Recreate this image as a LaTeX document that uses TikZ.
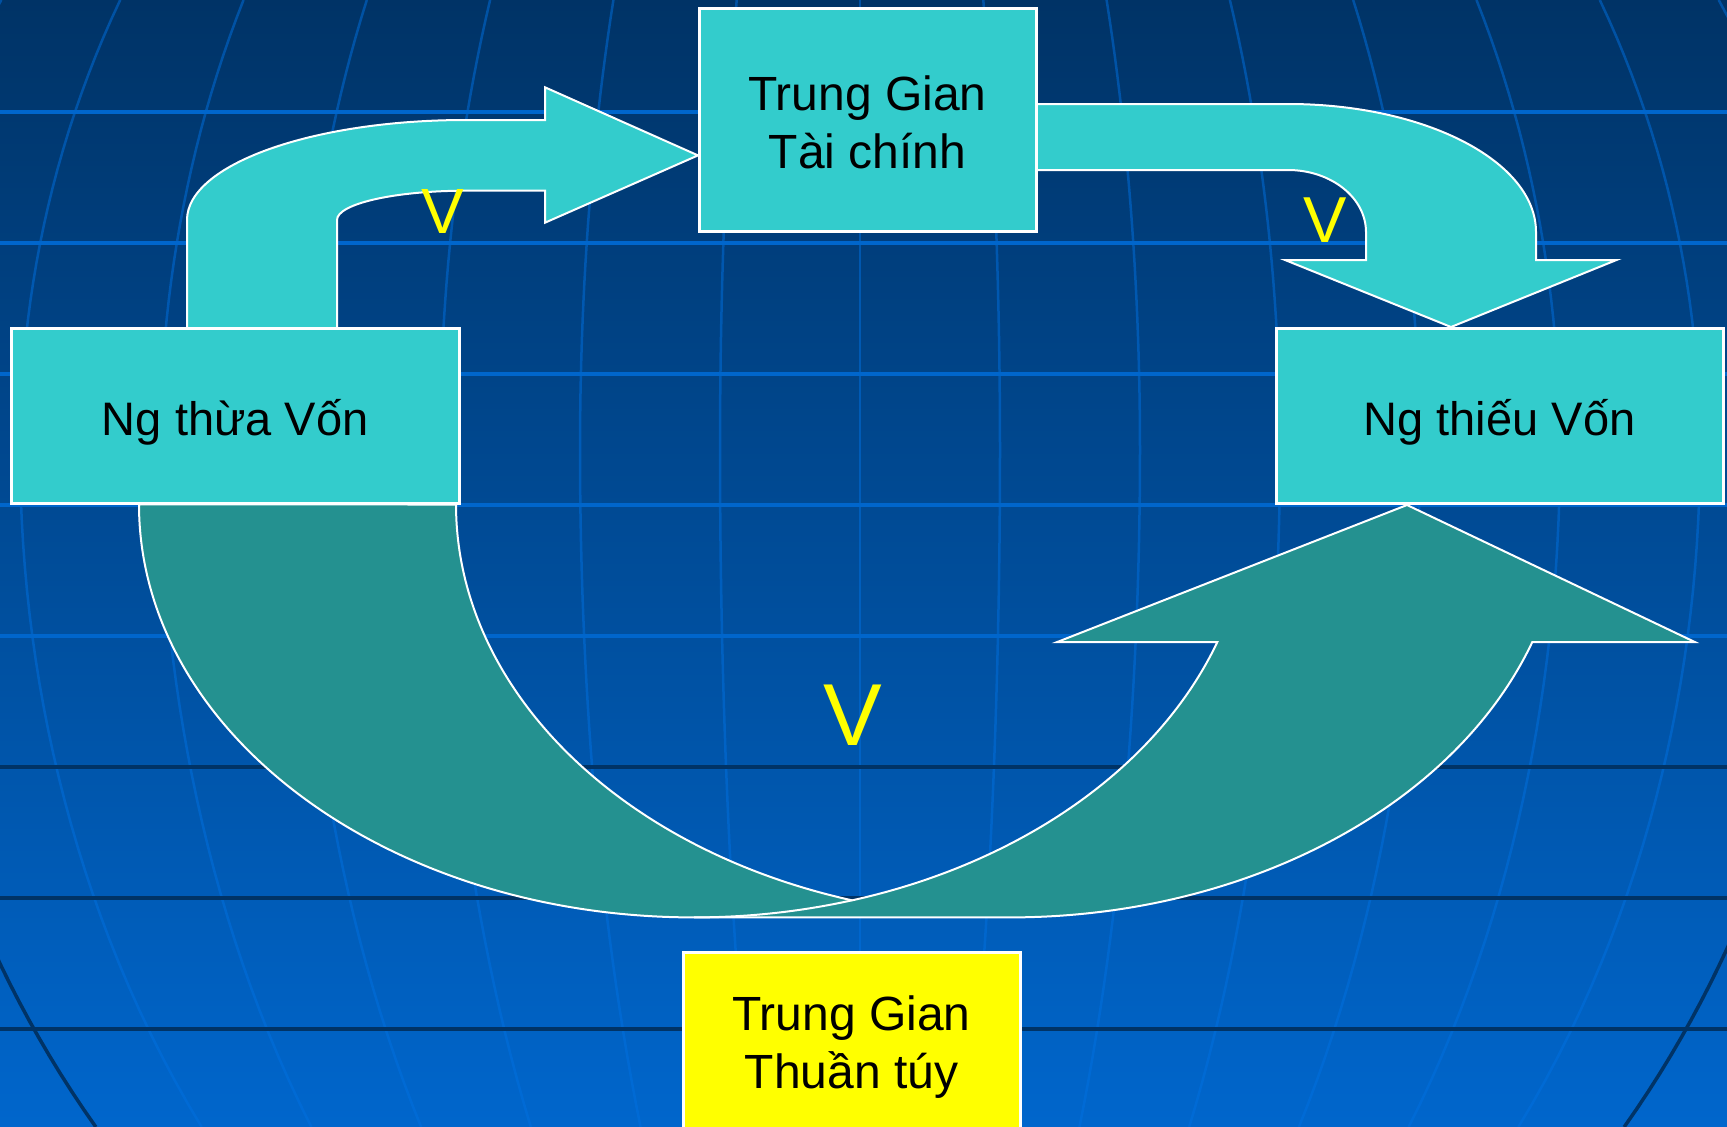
\documentclass[tikz,border=0pt]{standalone}
\usepackage{fontspec}
\setmainfont{Liberation Sans}
\definecolor{cyanbox}{HTML}{33CCCC}
\definecolor{tealarrow}{HTML}{249190}
\definecolor{bgtop}{HTML}{003366}
\definecolor{bgbot}{HTML}{0066CC}
\definecolor{gridlight}{HTML}{0066CC}
\definecolor{griddark}{HTML}{003366}
\definecolor{merid}{HTML}{0070E0}
\definecolor{vyellow}{HTML}{FFFF00}
\begin{document}
\begin{tikzpicture}[x=1pt,y=-1pt,
  hlight/.style={draw=gridlight, line width=3.5pt},
  hdark/.style={draw=griddark, line width=3.5pt},
  meridian/.style={draw=merid, draw opacity=0.5, line width=2.5pt},
  rim/.style={draw=griddark, line width=3.5pt},
  cbox/.style={draw=white, line width=3pt, fill=cyanbox, inner sep=0pt},
  ybox/.style={draw=white, line width=3pt, fill=vyellow, inner sep=0pt},
  boxtext/.style={font=\fontsize{48}{58}\selectfont, align=center, text=black, inner sep=0pt},
  onetext/.style={font=\fontsize{47}{58}\selectfont, text=black, inner sep=0pt, anchor=base},
  vlab/.style={text=vyellow, inner sep=0pt, anchor=base},
  lightarrow/.style={fill=cyanbox, draw=white, line width=2pt, line join=miter},
  darkarrow/.style={fill=tealarrow, draw=white, line width=2pt, line join=miter}]
\useasboundingbox (0,0) rectangle (1727,1127);
\clip (0,0) rectangle (1727,1127);
% background
\shade[top color=bgtop, bottom color=bgbot] (0,0) rectangle (1727,1127);
% meridians
\foreach \k in {-6,...,6} {
  \draw[meridian] plot[variable=\t, domain=0:450, samples=25] ({860+\k*140*sqrt(1-((\t-450)/950)^2)},\t)
    -- plot[variable=\t, domain=450:1127, samples=30] ({860+\k*140*sqrt(1-((\t-450)/1090)^2)},\t);
}
\foreach \s in {-1,1} {
  \draw[meridian] plot[variable=\t, domain=0:450, samples=25] ({860+\s*975*sqrt(1-((\t-450)/950)^2)},\t)
    -- plot[variable=\t, domain=450:700, samples=10] ({860+\s*975*sqrt(1-((\t-450)/1090)^2)},\t);
  \draw[rim] plot[variable=\t, domain=700:1127, samples=25] ({860+\s*975*sqrt(1-((\t-450)/1090)^2)},\t);
}
% parallels
\foreach \yy in {112,243,374,505,636} \draw[hlight] (0,\yy) -- (1727,\yy);
\foreach \yy in {767,898,1029} \draw[hdark] (0,\yy) -- (1727,\yy);

% lower curved arrow (direct flow)
\path[darkarrow] (139,504.4) arc[start angle=180, end angle=90, x radius=555, y radius=413]
  -- (1010,917.4) arc[start angle=90, end angle=19.47, x radius=554, y radius=413]
  -- (1695,642.1) -- (1407,505) -- (1057,642.1) -- (1217.3,642.1)
  arc[start angle=19.47, end angle=73.46, x radius=555, y radius=413]
  arc[start angle=106.57, end angle=180, x radius=554, y radius=413]
  -- cycle;
\draw[white, line width=2pt] (852,900.3) arc[start angle=73.46, end angle=90, x radius=555, y radius=413];

% upper left arrow
\path[lightarrow] (187,330) -- (187,220) arc[start angle=180, end angle=270, x radius=279, y radius=100]
  -- (545,120) -- (545,87.3) -- (698,155.4) -- (545,222.7) -- (545,190.7) -- (466,190.7)
  arc[start angle=270, end angle=180, x radius=129, y radius=29.3] -- (337,330) -- cycle;

% upper right arrow
\path[lightarrow] (1033,104) -- (1288,104) arc[start angle=270, end angle=360, x radius=248, y radius=128]
  -- (1536,260) -- (1616.5,260) -- (1451,327) -- (1285,260) -- (1366,260) -- (1366,232)
  arc[start angle=0, end angle=-90, x radius=78, y radius=62] -- (1033,170) -- cycle;

% boxes
\node[cbox, minimum width=448.5pt, minimum height=175.6pt] (ntv) at (235.25,415.8) {};
\node[onetext] (ntvlabel) at (235.25,435) {Ng thừa Vốn};
\node[cbox, minimum width=447pt, minimum height=175.6pt] (nthv) at (1499.5,415.8) {};
\node[onetext] (nthvlabel) at (1499.5,435) {Ng thiếu Vốn};
\node[cbox, minimum width=337pt, minimum height=223pt] (tgtc) at (867.5,119.5) {};
\node[boxtext] (tgtclabel) at (867.5,122) {Trung Gian\\Tài chính};
\node[ybox, minimum width=337pt, minimum height=189pt] (tgtt) at (851.5,1046.5) {};
\node[boxtext] (tgttlabel) at (851.5,1047.5) {Trung Gian\\Thuần túy};

% V labels
\node[vlab, font=\fontsize{64}{70}\selectfont] (v1) at (443,233) {V};
\node[vlab, font=\fontsize{65}{70}\selectfont] (v2) at (1325.6,242) {V};
\node[vlab, font=\fontsize{88}{90}\selectfont] (v3) at (852.5,745.7) {V};
\end{tikzpicture}
\end{document}
